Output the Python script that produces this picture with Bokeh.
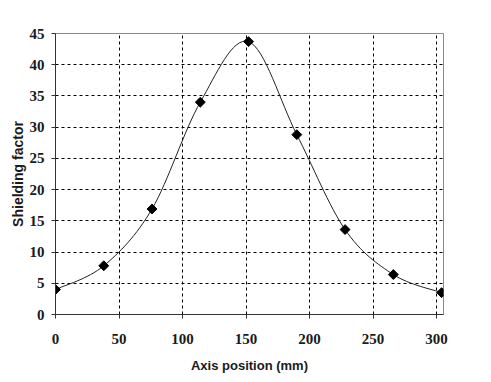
import numpy as np
from bokeh.plotting import figure
from bokeh.models import Range1d, FixedTicker, ColumnDataSource
from bokeh.embed import file_html
from bokeh.resources import INLINE

# data
positions = [0, 38, 76, 114, 152, 190, 228, 266, 304]
shielding = [4.0, 7.8, 16.9, 34.0, 43.7, 28.8, 13.6, 6.4, 3.5]
x_ticks = [0, 50, 100, 150, 200, 250, 300]
y_ticks = [0, 5, 10, 15, 20, 25, 30, 35, 40, 45]

FONT = "Liberation Sans Narrow"

p = figure(width=475, height=375, output_backend="svg", toolbar_location=None,
           x_range=Range1d(0, 305.5), y_range=Range1d(0, 45),
           min_border_left=55, min_border_right=32, min_border_top=33, min_border_bottom=60)
p.background_fill_color = "white"
p.border_fill_color = "white"
p.outline_line_color = "#8a8a8a"
p.outline_line_width = 1

# smooth curve (Excel-like Catmull-Rom Bezier through the points)
xs = np.array(positions, dtype=float)
ys = np.array(shielding, dtype=float)
xp = np.concatenate([[xs[0]], xs, [xs[-1]]])
yp = np.concatenate([[ys[0]], ys, [ys[-1]]])
n = len(xs) - 1
x0 = xs[:-1]; y0 = ys[:-1]; x1 = xs[1:]; y1 = ys[1:]
cx0 = x0 + (xp[2:n + 2] - xp[0:n]) / 6.0
cy0 = y0 + (yp[2:n + 2] - yp[0:n]) / 6.0
cx1 = x1 - (xp[3:n + 3] - xp[1:n + 1]) / 6.0
cy1 = y1 - (yp[3:n + 3] - yp[1:n + 1]) / 6.0
bsrc = ColumnDataSource(dict(x0=x0, y0=y0, x1=x1, y1=y1, cx0=cx0, cy0=cy0, cx1=cx1, cy1=cy1))
p.bezier(x0="x0", y0="y0", x1="x1", y1="y1", cx0="cx0", cy0="cy0", cx1="cx1", cy1="cy1",
         source=bsrc, line_color="#222222", line_width=1)

p.scatter(positions, shielding, marker="square", size=7, angle=np.pi / 4,
          fill_color="black", line_color="black")

# axes
for ax in (p.xaxis[0], p.yaxis[0]):
    ax.axis_line_color = "#333333"
    ax.axis_line_width = 1
    ax.major_tick_line_color = "#333333"
    ax.major_tick_out = 4
    ax.major_tick_in = 0
    ax.minor_tick_line_color = None
    ax.major_label_text_font = FONT
    ax.major_label_text_font_style = "bold"
    ax.major_label_text_font_size = "15px"
    ax.major_label_text_color = "#1a1a1a"
    ax.axis_label_text_font = "Liberation Sans"
    ax.axis_label_text_font_style = "bold"
    ax.axis_label_text_color = "#1a1a1a"

p.xaxis.axis_label_text_font_size = "13px"
p.yaxis.axis_label_text_font_size = "14px"
p.xaxis.ticker = FixedTicker(ticks=x_ticks)
p.yaxis.ticker = FixedTicker(ticks=y_ticks)
p.xaxis.axis_label = "Axis position (mm)"
p.yaxis.axis_label = "Shielding factor"
p.xaxis.major_label_standoff = 15
p.yaxis.major_label_standoff = 7
p.xaxis.axis_label_standoff = 11
p.yaxis.axis_label_standoff = 1

p.xgrid.grid_line_color = "black"
p.ygrid.grid_line_color = "black"
p.xgrid.grid_line_dash = "3 3"
p.ygrid.grid_line_dash = "3 3"
p.xgrid.grid_line_width = 1
p.ygrid.grid_line_width = 1

open("out.html", "w").write(file_html(p, INLINE))
